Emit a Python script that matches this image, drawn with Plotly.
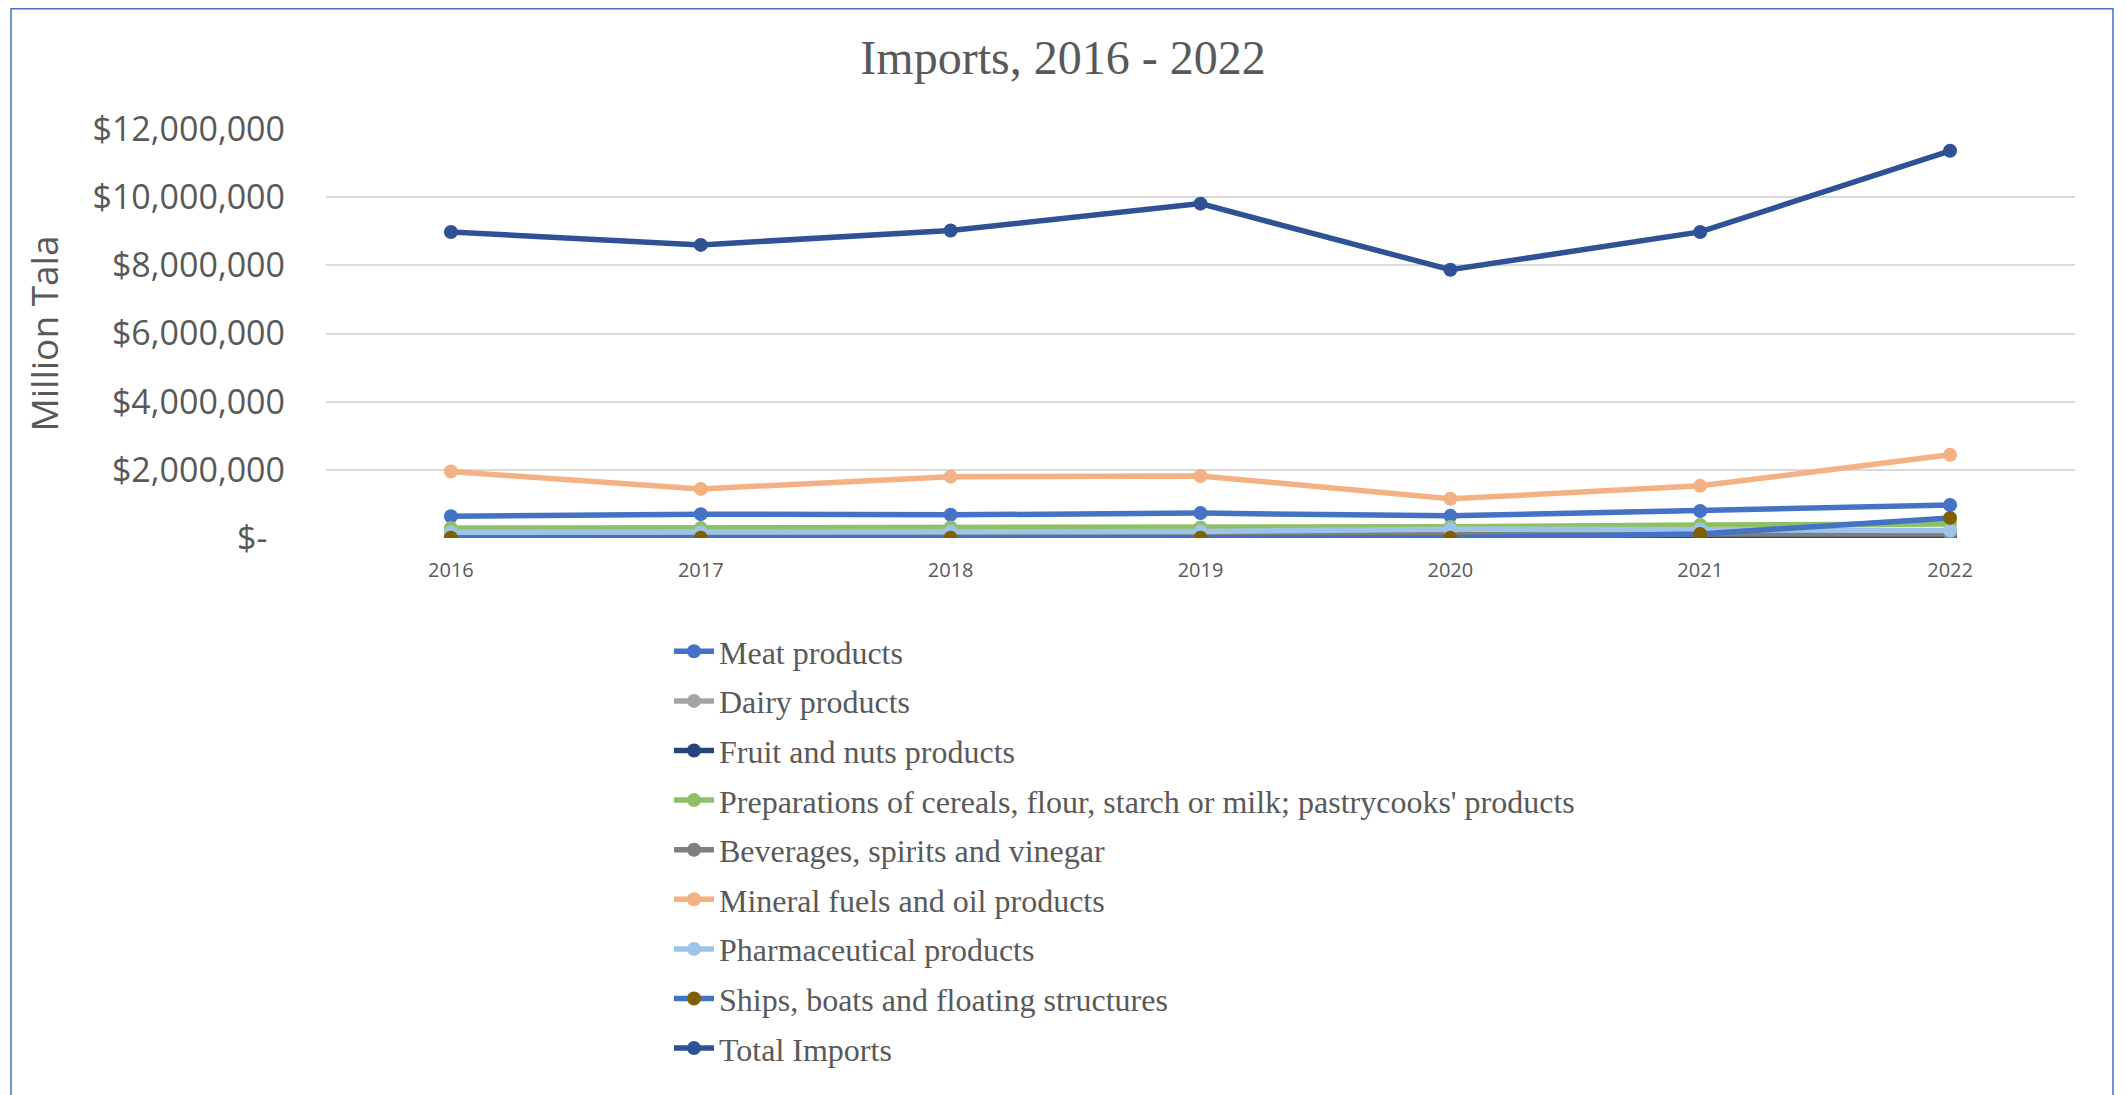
import plotly.graph_objects as go

years = [2016, 2017, 2018, 2019, 2020, 2021, 2022]

meat = [640000, 700000, 680000, 730000, 650000, 790000, 970000]
dairy = [110000, 110000, 110000, 120000, 130000, 140000, 160000]
fruit = [30000, 30000, 30000, 30000, 30000, 40000, 40000]
cereals = [290000, 290000, 310000, 310000, 330000, 380000, 410000]
beverages = [80000, 80000, 80000, 90000, 90000, 100000, 120000]
mineral = [1950000, 1440000, 1800000, 1820000, 1150000, 1530000, 2440000]
pharma = [170000, 170000, 180000, 190000, 260000, 250000, 220000]
ships = [10000, 10000, 10000, 10000, 10000, 120000, 590000]
total = [8980000, 8600000, 9020000, 9810000, 7870000, 8980000, 11360000]

series_names = [
    "Meat products",
    "Dairy products",
    "Fruit and nuts products",
    "Preparations of cereals, flour, starch or milk; pastrycooks' products",
    "Beverages, spirits and vinegar",
    "Mineral fuels and oil products",
    "Pharmaceutical products",
    "Ships, boats and floating structures",
    "Total Imports",
]
series_values = [meat, dairy, fruit, cereals, beverages, mineral, pharma, ships, total]
line_colors = ["#4472C4", "#A5A5A5", "#264478", "#8FC068", "#7F7F7F",
               "#F4B183", "#9DC3E6", "#4472C4", "#2F5296"]
marker_colors = ["#4472C4", "#A5A5A5", "#264478", "#8FC068", "#7F7F7F",
                 "#F4B183", "#9DC3E6", "#7F6000", "#2F5296"]

y_tickvals = [0, 2000000, 4000000, 6000000, 8000000, 10000000, 12000000]
y_ticktext = ["$-\u00a0\u00a0", "$2,000,000", "$4,000,000", "$6,000,000",
              "$8,000,000", "$10,000,000", "$12,000,000"]

fig = go.Figure()
for i, (name, vals) in enumerate(zip(series_names, series_values)):
    fig.add_trace(go.Scatter(
        x=years, y=vals, name=name, mode="lines+markers",
        legendgroup=f"g{i}",
        line=dict(color=line_colors[i], width=5.5),
        marker=dict(color=marker_colors[i], size=14),
    ))

W, H = 2126, 1095
L, R, T, B = 318, 59, 121, 565
pw, ph = W - L - R, H - T - B

def px_x(p):
    return (p - L) / pw

def px_y(p):
    return (H - B - p) / ph

fig.update_layout(
    width=W, height=H,
    margin=dict(l=L, r=R, t=T, b=B, autoexpand=False),
    paper_bgcolor="white", plot_bgcolor="white",
    title=dict(text="Imports, 2016 - 2022", xref="container", x=1055 / W, xanchor="center",
               yref="container", y=1 - 49 / H, yanchor="middle",
               font=dict(family="Liberation Serif", size=48, color="#595959")),
    showlegend=True,
    legend=dict(x=px_x(661), xanchor="left", y=px_y(616), yanchor="top",
                font=dict(family="Liberation Serif", size=32, color="#595959"),
                bgcolor="rgba(0,0,0,0)", tracegroupgap=5, itemwidth=40),
    xaxis=dict(range=[2015.5, 2022.5], tickvals=years, ticktext=[str(y) for y in years],
               showgrid=False, zeroline=False, showline=False,
               ticks="outside", ticklen=14, tickcolor="rgba(0,0,0,0)",
               tickfont=dict(family="Open Sans", size=20, color="#595959")),
    yaxis=dict(range=[0, 12000000], tickvals=y_tickvals, ticktext=y_ticktext,
               showgrid=True, gridcolor="#D9D9D9", gridwidth=1.5,
               zeroline=False, showline=False, ticks="", ticklabelstandoff=40,
               tickfont=dict(family="Open Sans", size=34, color="#595959"),
               title=dict(text="Million Tala", standoff=22,
                          font=dict(family="Open Sans", size=37, color="#595959"))),
    shapes=[dict(type="rect", xref="paper", yref="paper",
                 x0=px_x(3), x1=px_x(2105), y0=px_y(1110), y1=px_y(0.75),
                 line=dict(color="#4472C4", width=1.5), fillcolor="rgba(0,0,0,0)",
                 layer="below")],
)

fig.write_html("out.html")
